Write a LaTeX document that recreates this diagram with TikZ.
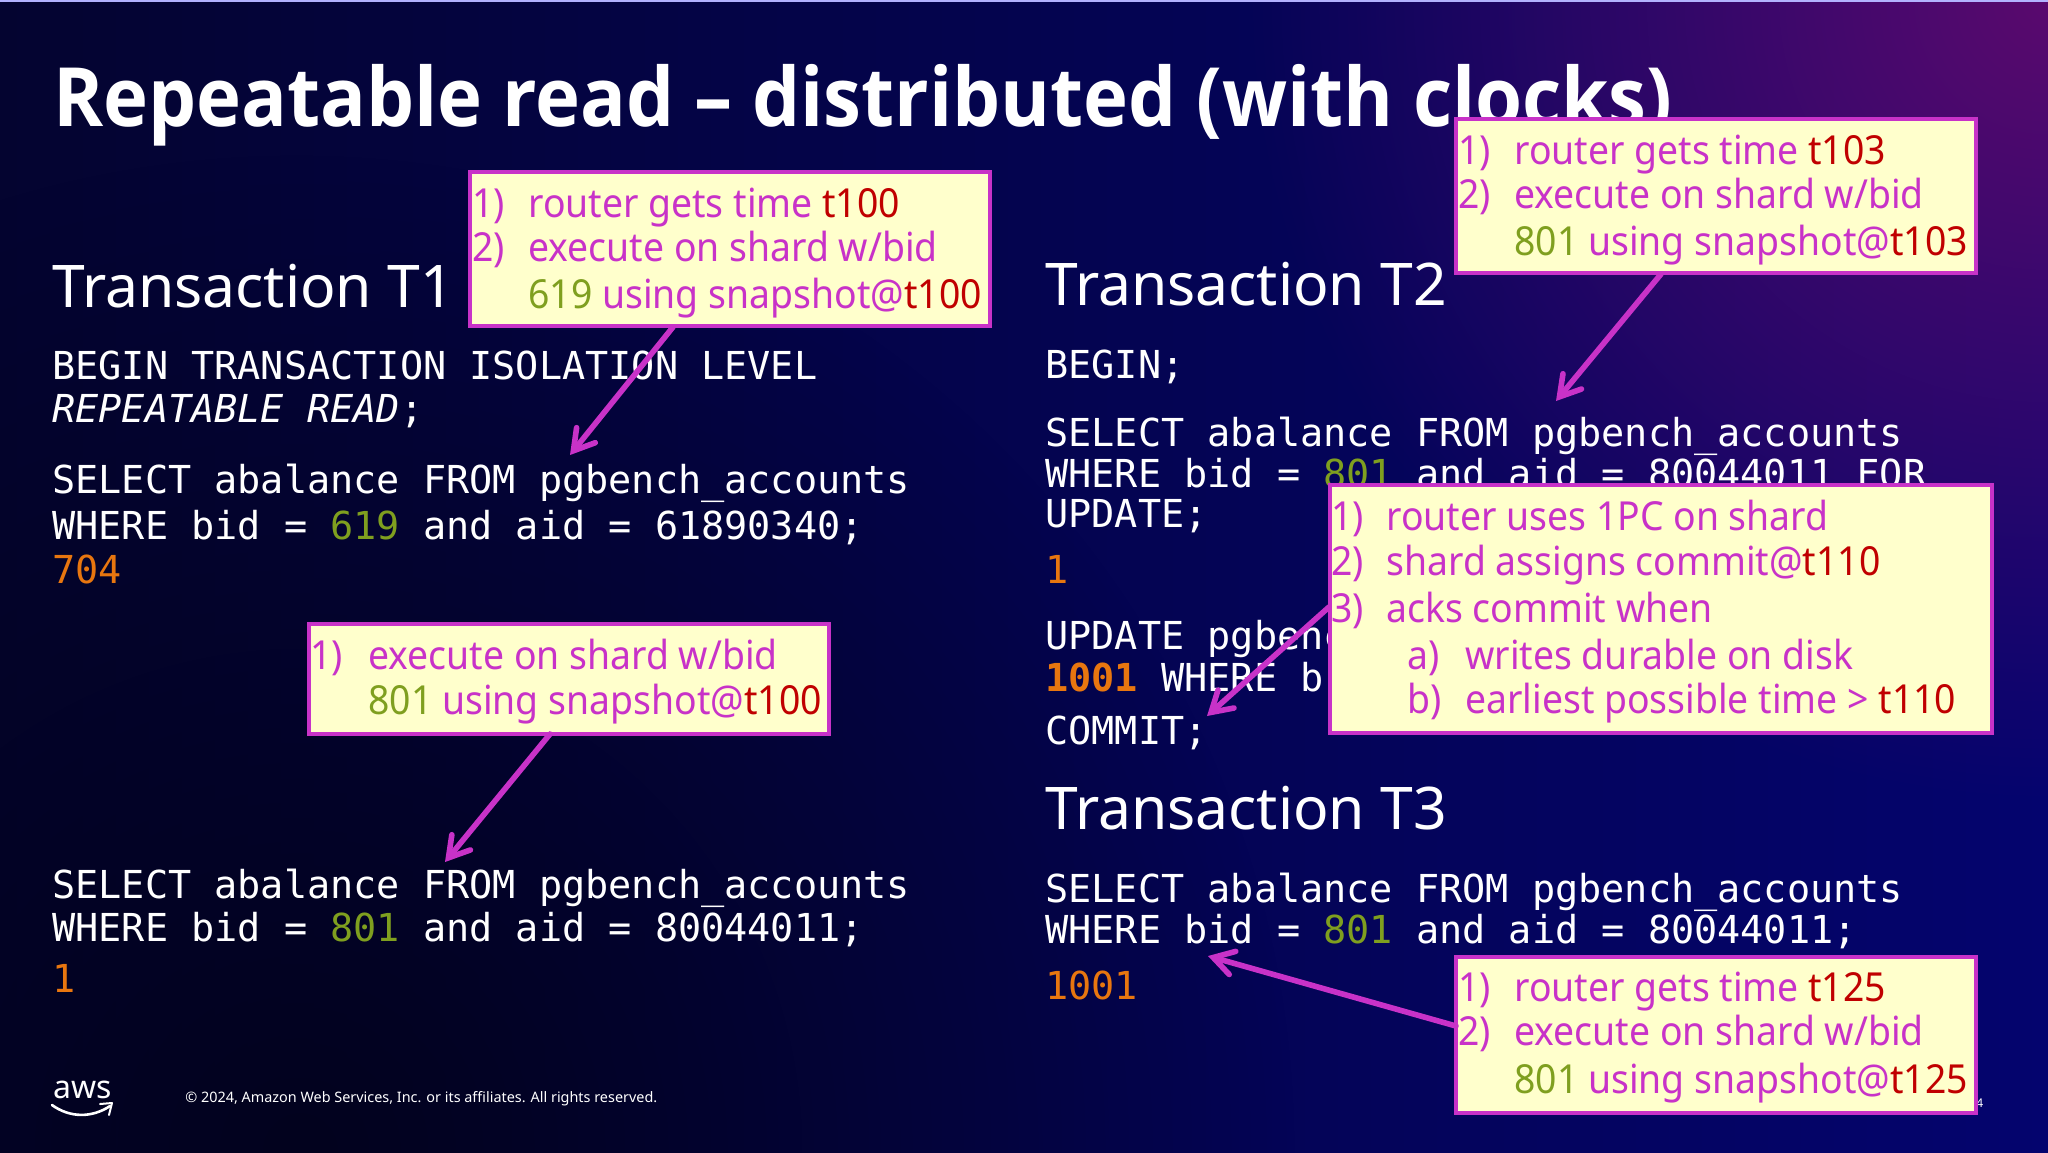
\documentclass[tikz,border=0pt]{standalone}
\usepackage{fontspec}
\setmainfont{Noto Sans}
\setmonofont{DejaVu Sans Mono}
\newfontfamily\titlefont[FakeStretch=0.93]{Open Sans}
\newfontfamily\callfont[FakeStretch=0.934]{Noto Sans}
\usetikzlibrary{arrows.meta,fadings}
\definecolor{callmag}{HTML}{C832C8}
\definecolor{callfill}{HTML}{FFFFCC}
\definecolor{clockred}{HTML}{C00000}
\definecolor{bidgreen}{HTML}{7F9F1F}
\definecolor{resorange}{HTML}{E8760F}
\definecolor{bgleft}{RGB}{4,4,48}
\definecolor{bgright}{RGB}{4,4,110}
\definecolor{bgdark}{RGB}{2,2,30}
\definecolor{bgpurple}{RGB}{90,10,110}
\tikzfading[name=glowfade, inner color=transparent!0, outer color=transparent!100]
\newcommand{\clockv}[1]{\textcolor{clockred}{#1}}
\newcommand{\bidv}[1]{\textcolor{bidgreen}{#1}}
\tikzset{
	head/.style={anchor=base west, inner sep=0pt, yshift=-1pt, text=white, font=\fontsize{29.4}{32}\selectfont},
	codeline/.style={anchor=base west, inner sep=0pt, yshift=-0.5pt, text=white, font=\ttfamily\fontsize{19.25}{22}\selectfont},
	result/.style={codeline, text=resorange},
	callbox/.style={draw=callmag, fill=callfill, line width=2.2pt, anchor=north west, inner sep=0pt},
	calltext/.style={anchor=base west, inner sep=0pt, yshift=-1pt, text=callmag, font=\callfont\fontsize{20}{24}\selectfont},
	callarrow/.style={draw=callmag, line width=2.8pt, line cap=round, -{Straight Barb[length=10pt,width=12pt,line width=2.8pt,line cap=round]}},
}
\begin{document}
\begin{tikzpicture}[x=0.5pt, y=-0.5pt]
	\useasboundingbox (0,0) rectangle (2048,1152);
	% background
	\clip (0,0) rectangle (2048,1152);
	\shade[left color=bgleft, right color=bgright] (0,0) rectangle (2048,1152);
	\fill[bgdark, path fading=glowfade] (300,1150) circle (1000);
	\fill[bgpurple, path fading=glowfade] (2048,0) circle (800);
	\fill[white!70!blue] (0,0) rectangle (2048,2);
	% title and left column
	\node[anchor=base west, inner sep=0pt, text=white, font=\titlefont\bfseries\fontsize{40.9}{44}\selectfont] (title) at (53,126) {Repeatable read – distributed (with clocks)};
	\node[head] (t1head) at (52,305) {Transaction T1};
	\node[codeline] (t1begin) at (52,378) {BEGIN TRANSACTION ISOLATION LEVEL};
	\node[codeline] (t1level) at (52,421) {\textit{REPEATABLE READ};};
	\node[codeline] (t1sel) at (52,492) {SELECT abalance FROM pgbench\_accounts};
	\node[codeline] (t1where) at (52,538) {WHERE bid = \bidv{619} and aid = 61890340;};
	\node[result] (t1res) at (52,582) {704};
	\node[codeline] (t1sela) at (52,897) {SELECT abalance FROM pgbench\_accounts};
	\node[codeline] (t1wherea) at (52,940) {WHERE bid = \bidv{801} and aid = 80044011;};
	\node[result] (t1resa) at (52,991) {1};
	% right column
	\node[head] (t2head) at (1045,303) {Transaction T2};
	\node[codeline] (t2begin) at (1045,377) {BEGIN;};
	\node[codeline] (t2sel) at (1045,445) {SELECT abalance FROM pgbench\_accounts};
	\node[codeline] (t2where) at (1045,486) {WHERE bid = \bidv{801} and aid = 80044011 FOR};
	\node[codeline] (t2upd) at (1045,526) {UPDATE;};
	\node[result] (t2res) at (1045,582) {1};
	\node[codeline] (t2set) at (1045,648) {UPDATE pgbenc};
	\node[codeline] (t2val) at (1045,690) {\textcolor{resorange}{\bfseries 1001} WHERE b};
	\node[codeline] (t2com) at (1045,743) {COMMIT;};
	\node[head] (t3head) at (1045,827) {Transaction T3};
	\node[codeline] (t3sel) at (1045,901) {SELECT abalance FROM pgbench\_accounts};
	\node[codeline] (t3where) at (1045,942) {WHERE bid = \bidv{801} and aid = 80044011;};
	\node[result] (t3res) at (1045,998) {1001};
	% footer
	\node[anchor=base west, inner sep=0pt, text=white, font=\fontsize{16}{18}\selectfont] (awslogo) at (53,1098) {aws};
	\coordinate (smilea) at (52,1105);
	\coordinate (smileb) at (110,1106);
	\coordinate (hooka) at (100,1104);
	\coordinate (hookb) at (112,1103);
	\coordinate (hookc) at (109,1115);
	\draw[white, line width=1.3pt, line cap=round] (smilea) .. controls (70,1118) and (92,1118) .. (smileb);
	\draw[white, line width=1pt, line cap=round, line join=round] (hooka) -- (hookb) -- (hookc);
	\node[anchor=base west, inner sep=0pt, text=white, font=\fontsize{7.2}{9}\selectfont] (copy) at (185,1102) {© 2024, Amazon Web Services, Inc. or its affiliates. All rights reserved.};
	\node[anchor=base west, inner sep=0pt, text=white, font=\fontsize{6}{8}\selectfont] (pagenum) at (1976,1107) {4};
	% callouts
	\node[callbox, minimum width=260pt, minimum height=77pt] (callta) at (468,170) {};
	\node[callbox, minimum width=260pt, minimum height=77pt] (calltb) at (1454,117) {};
	\node[callbox, minimum width=260pt, minimum height=55pt] (calltc) at (307,622) {};
	\node[callbox, minimum width=331pt, minimum height=124pt] (calltd) at (1328,483) {};
	\node[callbox, minimum width=260pt, minimum height=78pt] (callte) at (1454,955) {};
	% arrow ends
	\coordinate (taila) at (673,327);
	\coordinate (tipa) at (570,455);
	\coordinate (tailb) at (1661,274);
	\coordinate (tipb) at (1556,401);
	\coordinate (tailc) at (550,734);
	\coordinate (tipc) at (445,862);
	\coordinate (taild) at (1329,607);
	\coordinate (tipd) at (1207,716);
	\coordinate (taile) at (1456,1026);
	\coordinate (tipe) at (1208,956);
	\draw[callarrow] (taila) -- (tipa);
	\draw[callarrow] (tailb) -- (tipb);
	\draw[callarrow] (tailc) -- (tipc);
	\draw[callarrow] (taild) -- (tipd);
	\draw[callarrow] (taile) -- (tipe);
	% callout text
	\node[calltext] (lan) at (472,215) {1)};
	\node[calltext] (lat) at (528,215) {router gets time \clockv{t100}};
	\node[calltext] (lbn) at (472,259) {2)};
	\node[calltext] (lbt) at (528,259) {execute on shard w/bid};
	\node[calltext] (lct) at (528,306) {\bidv{619} using snapshot@\clockv{t100}};
	\node[calltext] (man) at (1458,162) {1)};
	\node[calltext] (mat) at (1514,162) {router gets time \clockv{t103}};
	\node[calltext] (mbn) at (1458,206) {2)};
	\node[calltext] (mbt) at (1514,206) {execute on shard w/bid};
	\node[calltext] (mct) at (1514,253) {\bidv{801} using snapshot@\clockv{t103}};
	\node[calltext] (nan) at (310,667) {1)};
	\node[calltext] (nat) at (368,667) {execute on shard w/bid};
	\node[calltext] (nbt) at (368,712) {\bidv{801} using snapshot@\clockv{t100}};
	\node[calltext] (pan) at (1331,528) {1)};
	\node[calltext] (pat) at (1386,528) {router uses 1PC on shard};
	\node[calltext] (pbn) at (1331,573) {2)};
	\node[calltext] (pbt) at (1386,573) {shard assigns commit@\clockv{t110}};
	\node[calltext] (pcn) at (1331,620) {3)};
	\node[calltext] (pct) at (1386,620) {acks commit when};
	\node[calltext] (pdn) at (1407,667) {a)};
	\node[calltext] (pdt) at (1465,667) {writes durable on disk};
	\node[calltext] (pen) at (1407,711) {b)};
	\node[calltext] (pet) at (1465,711) {earliest possible time > \clockv{t110}};
	\node[calltext] (qan) at (1458,999) {1)};
	\node[calltext] (qat) at (1514,999) {router gets time \clockv{t125}};
	\node[calltext] (qbn) at (1458,1043) {2)};
	\node[calltext] (qbt) at (1514,1043) {execute on shard w/bid};
	\node[calltext] (qct) at (1514,1091) {\bidv{801} using snapshot@\clockv{t125}};
\end{tikzpicture}
\end{document}
